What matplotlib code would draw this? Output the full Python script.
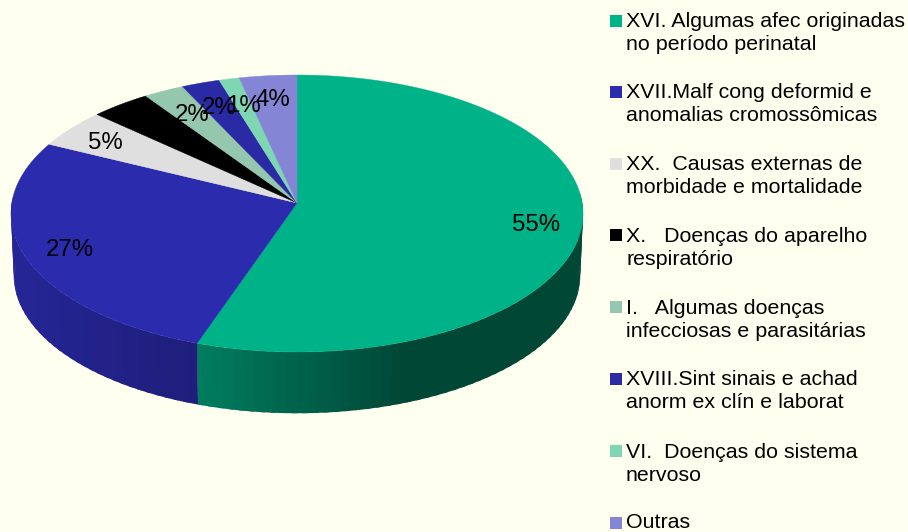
import numpy as np
import matplotlib
matplotlib.use('Agg')
import matplotlib.pyplot as plt
from matplotlib.patches import Rectangle

categories = ['XVI. Algumas afec originadas\nno período perinatal',
              'XVII.Malf cong deformid e\nanomalias cromossômicas',
              'XX.  Causas externas de\nmorbidade e mortalidade',
              'X.   Doenças do aparelho\nrespiratório',
              'I.   Algumas doenças\ninfecciosas e parasitárias',
              'XVIII.Sint sinais e achad\nanorm ex clín e laborat',
              'VI.  Doenças do sistema\nnervoso',
              'Outras']
values = [55.3, 27.0, 4.55, 3.67, 2.47, 2.33, 1.23, 3.5]
labels = ['55%', '27%', '5%', '4%', '2%', '2%', '1%', '4%']

colors = ['#00B287', '#2B2BAE', '#DFDFDF', '#000000', '#95C6AE', '#2A2AA5', '#7FD6B3', '#8585D6']
bg = '#FFFFF0'

# label and legend placement, in pixels of the picture
label_x = [536, 70, 105, 127, 192, 219, 243, 273]
label_y = [225, 250, 143, 118, 115, 108, 106, 100]
legend_y = [33, 104, 176, 248, 320, 391, 464, 523]
marker_y = [21, 92, 164, 235, 307, 379, 451, 523]

plt.rcParams['font.family'] = ['Liberation Sans', 'DejaVu Sans']

# perspective of the pie: apex x and tilt
CX = 297
TILT = 0.0758


def rim(theta, apex_y, half_w, half_h):
    """Project a clockwise-from-top angle (deg) onto the tilted disc."""
    t = np.radians(theta)
    u, v = np.sin(t), -np.cos(t)
    w = 1 - TILT * v
    return CX + half_w * u / w, apex_y + half_h * v / w


def shade(x):
    return np.interp(x, [11, 196, 400, 583], [0.87, 0.70, 0.40, 0.40])


fig = plt.figure(figsize=(9.08, 5.32), dpi=100, facecolor=bg)
ax = fig.add_axes([0, 0, 1, 1])
ax.set_xlim(0, 908)
ax.set_ylim(532, 0)
ax.axis('off')

edges = np.concatenate([[0], np.cumsum(values)]) * 360 / sum(values)

# side wall, only the part that faces the viewer
# each band runs on under the next one, so no seams show between them
for i, col in enumerate(colors):
    start, stop = max(edges[i], 86), min(edges[i + 1], 272)
    if stop <= start:
        continue
    steps = np.arange(start, stop, 2.0)
    for a in steps:
        b = min(a + 3.0, stop)
        arc = np.linspace(a, b, 5)
        xt, yt = rim(arc, 203, 285.2, 137.7)
        xb, yb = rim(arc[::-1], 265, 282.4, 137.0)
        f = shade((xt.mean() + xb.mean()) / 2)
        c = np.array(matplotlib.colors.to_rgb(col)) * f
        ax.fill(np.r_[xt, xb], np.r_[yt, yb], color=c, lw=0, zorder=2)

# top face
for i, col in enumerate(colors):
    th = np.linspace(edges[i], edges[i + 1], 120)
    x, y = rim(th, 203, 285.2, 137.7)
    ax.fill(np.r_[CX, x], np.r_[203, y], color=col, lw=0.3, zorder=3)

for txt, x, y in zip(labels, label_x, label_y):
    ax.text(x, y, txt, fontsize=17.3, color='black', ha='center', va='center', zorder=5)

# legend
for name, col, y, my in zip(categories, colors, legend_y, marker_y):
    ax.add_patch(Rectangle((610, my - 6), 12, 12, color=col, lw=0, zorder=4))
    ax.text(626, y, name, fontsize=15.4, color='black', ha='left', va='center',
            linespacing=1.28, zorder=5)

fig.savefig('out.png', dpi=100, facecolor=bg)
